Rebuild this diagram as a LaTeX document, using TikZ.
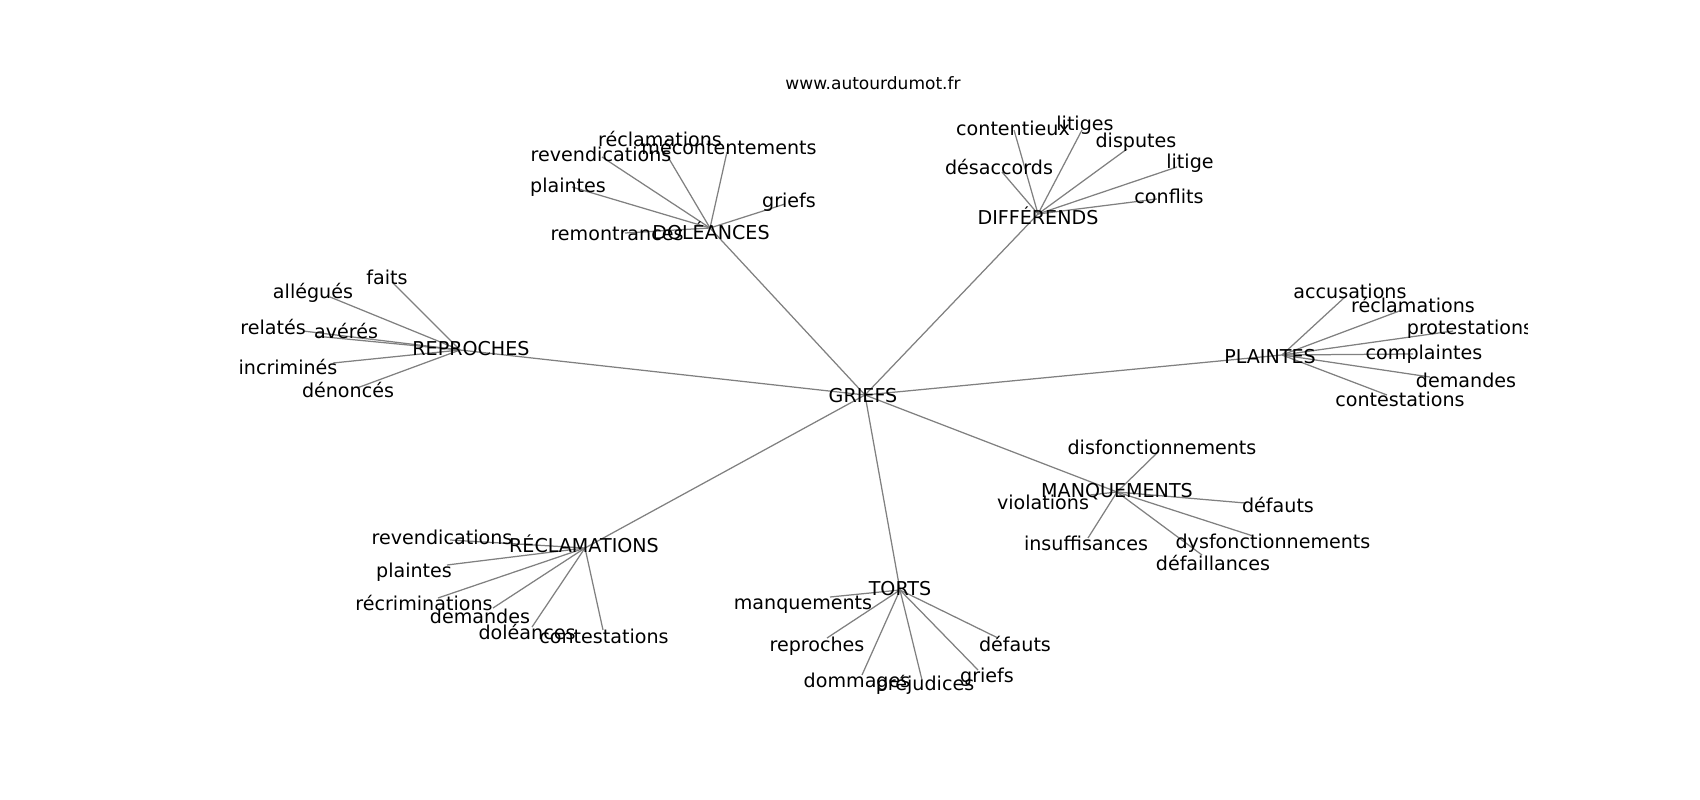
\documentclass[tikz,border=0pt]{standalone}
\usepackage{fontspec}
\setmainfont{DejaVu Sans}
\tikzset{
  lbl/.style={inner sep=0pt, font=\fontsize{13.8pt}{16pt}\selectfont, text height=10.2pt, text depth=0pt, text=black},
  ttl/.style={inner sep=0pt, font=\fontsize{12.3pt}{15pt}\selectfont, text height=9.1pt, text depth=0pt, text=black},
  edge/.style={draw=black!50, line width=0.9pt}
}
\begin{document}
\begin{tikzpicture}[x=0.01in, y=-0.01in]
\useasboundingbox (0,0) rectangle (1700,800);
% ---------- node positions (edge ends) ----------
\coordinate (G) at (865,395);
\coordinate (DOL) at (710,228);
\coordinate (DIF) at (1038,214);
\coordinate (REP) at (460,350);
\coordinate (PLA) at (1282,355);
\coordinate (REC) at (585,548);
\coordinate (TOR) at (900,590);
\coordinate (MAN) at (1117,492);
% DOLEANCES leaves
\coordinate (dol1) at (668,157);
\coordinate (dol2) at (727,152);
\coordinate (dol3) at (602,157);
\coordinate (dol4) at (572,187);
\coordinate (dol5) at (785,204);
\coordinate (dol6) at (625,233);
% DIFFERENDS leaves
\coordinate (dif1) at (1014,130);
\coordinate (dif2) at (1082,130);
\coordinate (dif3) at (1002,172);
\coordinate (dif4) at (1127,149);
\coordinate (dif5) at (1177,167);
\coordinate (dif6) at (1157,199);
% REPROCHES leaves
\coordinate (rep1) at (392,282);
\coordinate (rep2) at (330,297);
\coordinate (rep3) at (303,331);
\coordinate (rep4) at (315,336);
\coordinate (rep5) at (333,363);
\coordinate (rep6) at (357,388);
% PLAINTES leaves
\coordinate (pla1) at (1345,297);
\coordinate (pla2) at (1402,310);
\coordinate (pla3) at (1453,331);
\coordinate (pla4) at (1413,354);
\coordinate (pla5) at (1430,377);
\coordinate (pla6) at (1387,395);
% RECLAMATIONS leaves
\coordinate (rec1) at (450,540);
\coordinate (rec2) at (447,565);
\coordinate (rec3) at (438,598);
\coordinate (rec4) at (493,608);
\coordinate (rec5) at (532,627);
\coordinate (rec6) at (603,630);
% TORTS leaves
\coordinate (tor1) at (830,597);
\coordinate (tor2) at (827,638);
\coordinate (tor3) at (862,675);
\coordinate (tor4) at (922,680);
\coordinate (tor5) at (978,670);
\coordinate (tor6) at (998,638);
% MANQUEMENTS leaves
\coordinate (man1) at (1158,452);
\coordinate (man2) at (1090,495);
\coordinate (man3) at (1245,503);
\coordinate (man4) at (1088,538);
\coordinate (man5) at (1253,536);
\coordinate (man6) at (1202,555);
% ---------- edges ----------
\foreach \h in {DOL,DIF,REP,PLA,REC,TOR,MAN} \draw[edge] (G) -- (\h);
\foreach \i in {1,...,6} {
  \draw[edge] (DOL) -- (dol\i);
  \draw[edge] (DIF) -- (dif\i);
  \draw[edge] (REP) -- (rep\i);
  \draw[edge] (PLA) -- (pla\i);
  \draw[edge] (REC) -- (rec\i);
  \draw[edge] (TOR) -- (tor\i);
  \draw[edge] (MAN) -- (man\i);
}
% ---------- title ----------
\node[ttl] (title) at (873,83) {www.autourdumot.fr};
% ---------- labels ----------
\begin{scope}
\clip (212.5,96) rectangle (1527,712);
\node[lbl] (tG) at (863,395) {GRIEFS};
\node[lbl] (tDOL) at (711,232) {DOLÉANCES};
\node[lbl] (tDIF) at (1038,217) {DIFFÉRENDS};
\node[lbl] (tREP) at (471,348) {REPROCHES};
\node[lbl] (tPLA) at (1270,356) {PLAINTES};
\node[lbl] (tREC) at (584,545) {RÉCLAMATIONS};
\node[lbl] (tTOR) at (900,588) {TORTS};
\node[lbl] (tMAN) at (1117,490) {MANQUEMENTS};
% DOLEANCES
\node[lbl] (tdol1) at (660,139) {réclamations};
\node[lbl] (tdol2) at (729,147) {mécontentements};
\node[lbl] (tdol3) at (601,154) {revendications};
\node[lbl] (tdol4) at (568,185) {plaintes};
\node[lbl] (tdol5) at (789,200) {griefs};
\node[lbl] (tdol6) at (617,233) {remontrances};
% DIFFERENDS
\node[lbl] (tdif1) at (1013,128) {contentieux};
\node[lbl] (tdif2) at (1085,123) {litiges};
\node[lbl] (tdif3) at (999,167) {désaccords};
\node[lbl] (tdif4) at (1136,140) {disputes};
\node[lbl] (tdif5) at (1190,161) {litige};
\node[lbl] (tdif6) at (1169,196) {conflits};
% REPROCHES
\node[lbl] (trep1) at (387,277) {faits};
\node[lbl] (trep2) at (313,291) {allégués};
\node[lbl] (trep3) at (273,327) {relatés};
\node[lbl] (trep4) at (346,331) {avérés};
\node[lbl] (trep5) at (288,367) {incriminés};
\node[lbl] (trep6) at (348,390) {dénoncés};
% PLAINTES
\node[lbl] (tpla1) at (1350,291) {accusations};
\node[lbl] (tpla2) at (1413,305) {réclamations};
\node[lbl] (tpla3) at (1470,327) {protestations};
\node[lbl] (tpla4) at (1424,352) {complaintes};
\node[lbl] (tpla5) at (1466,380) {demandes};
\node[lbl] (tpla6) at (1400,399) {contestations};
% RECLAMATIONS
\node[lbl] (trec1) at (442,537) {revendications};
\node[lbl] (trec2) at (414,570) {plaintes};
\node[lbl] (trec3) at (424,603) {récriminations};
\node[lbl] (trec4) at (480,616) {demandes};
\node[lbl] (trec5) at (527,632) {doléances};
\node[lbl] (trec6) at (604,636) {contestations};
% TORTS
\node[lbl] (ttor1) at (803,602) {manquements};
\node[lbl] (ttor2) at (817,644) {reproches};
\node[lbl] (ttor3) at (857,680) {dommages};
\node[lbl] (ttor4) at (925,683) {préjudices};
\node[lbl] (ttor5) at (987,675) {griefs};
\node[lbl] (ttor6) at (1015,644) {défauts};
% MANQUEMENTS
\node[lbl] (tman1) at (1162,447) {disfonctionnements};
\node[lbl] (tman2) at (1043,502) {violations};
\node[lbl] (tman3) at (1278,505) {défauts};
\node[lbl] (tman4) at (1086,543) {insuffisances};
\node[lbl] (tman5) at (1273,541) {dysfonctionnements};
\node[lbl] (tman6) at (1213,563) {défaillances};
\end{scope}
\end{tikzpicture}
\end{document}
